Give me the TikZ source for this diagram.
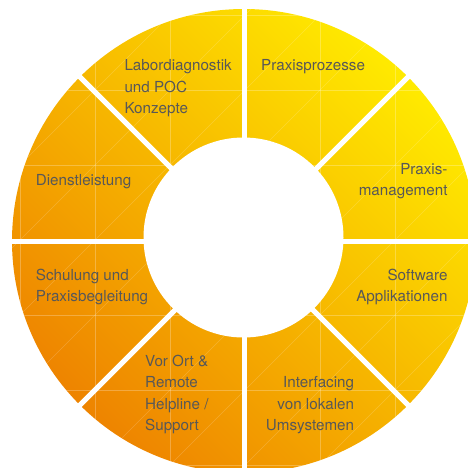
\documentclass[tikz,border=0pt]{standalone}
\usepackage{fontspec}
\setmainfont{TeX Gyre Heros}

\definecolor{ringorange}{HTML}{EE8400}
\definecolor{ringmid}{HTML}{FCC400}
\definecolor{ringyellow}{HTML}{FFEA00}
\definecolor{labelgray}{HTML}{585858}

\tikzset{
  seglabel/.style={text=labelgray, inner sep=0pt, font=\fontsize{15.2}{21.3}\selectfont},
  gridline/.style={white, opacity=0.25, line width=0.6pt},
}

\begin{document}
\begin{tikzpicture}[x=1pt, y=-1pt]
    \useasboundingbox (0,0) rectangle (468,468);

    % Ring with colour gradient
    \shade[left color=ringyellow, middle color=ringmid, right color=ringorange, shading angle=-45]
        (244,241) circle (232);

    % Faint tile grid
    \begin{scope}
        \clip (244,241) circle (232);
        \foreach \k in {0,...,6} {
            \draw[gridline] (20+75*\k,0) -- (20+75*\k,468);
            \draw[gridline] (0,15+75*\k) -- (468,15+75*\k);
        }
        \foreach \k in {0,...,12} {
            \draw[gridline, opacity=0.18] (35+75*\k-468,468) -- (35+75*\k,0);
        }
    \end{scope}

    % Hole and separators
    \fill[white] (243.5,237.5) circle (100);
    \foreach \a in {0,45,...,315}
        \draw[white, line width=5pt] (244,241) -- ++(\a:245);

    % Segment labels
    \node[seglabel, anchor=west, align=left] (labor) at (124.3,88.3) {Labordiagnostik\\und POC\\Konzepte};
    \node[seglabel, anchor=west] (prozesse) at (261,66.7) {Praxisprozesse};
    \node[seglabel, anchor=east, align=right] (management) at (447.7,181.3) {Praxis-\\management};
    \node[seglabel, anchor=west] (dienst) at (35.7,182) {Dienstleistung};
    \node[seglabel, anchor=west, align=left] (schulung) at (35.7,287.2) {Schulung und\\Praxisbegleitung};
    \node[seglabel, anchor=east, align=right] (software) at (447.7,287.2) {Software\\Applikationen};
    \node[seglabel, anchor=west, align=left] (support) at (145,394.5) {Vor Ort \&\\Remote\\Helpline /\\Support};
    \node[seglabel, anchor=east, align=right] (interfacing) at (354.3,405.3) {Interfacing\\von lokalen\\Umsystemen};
\end{tikzpicture}
\end{document}
